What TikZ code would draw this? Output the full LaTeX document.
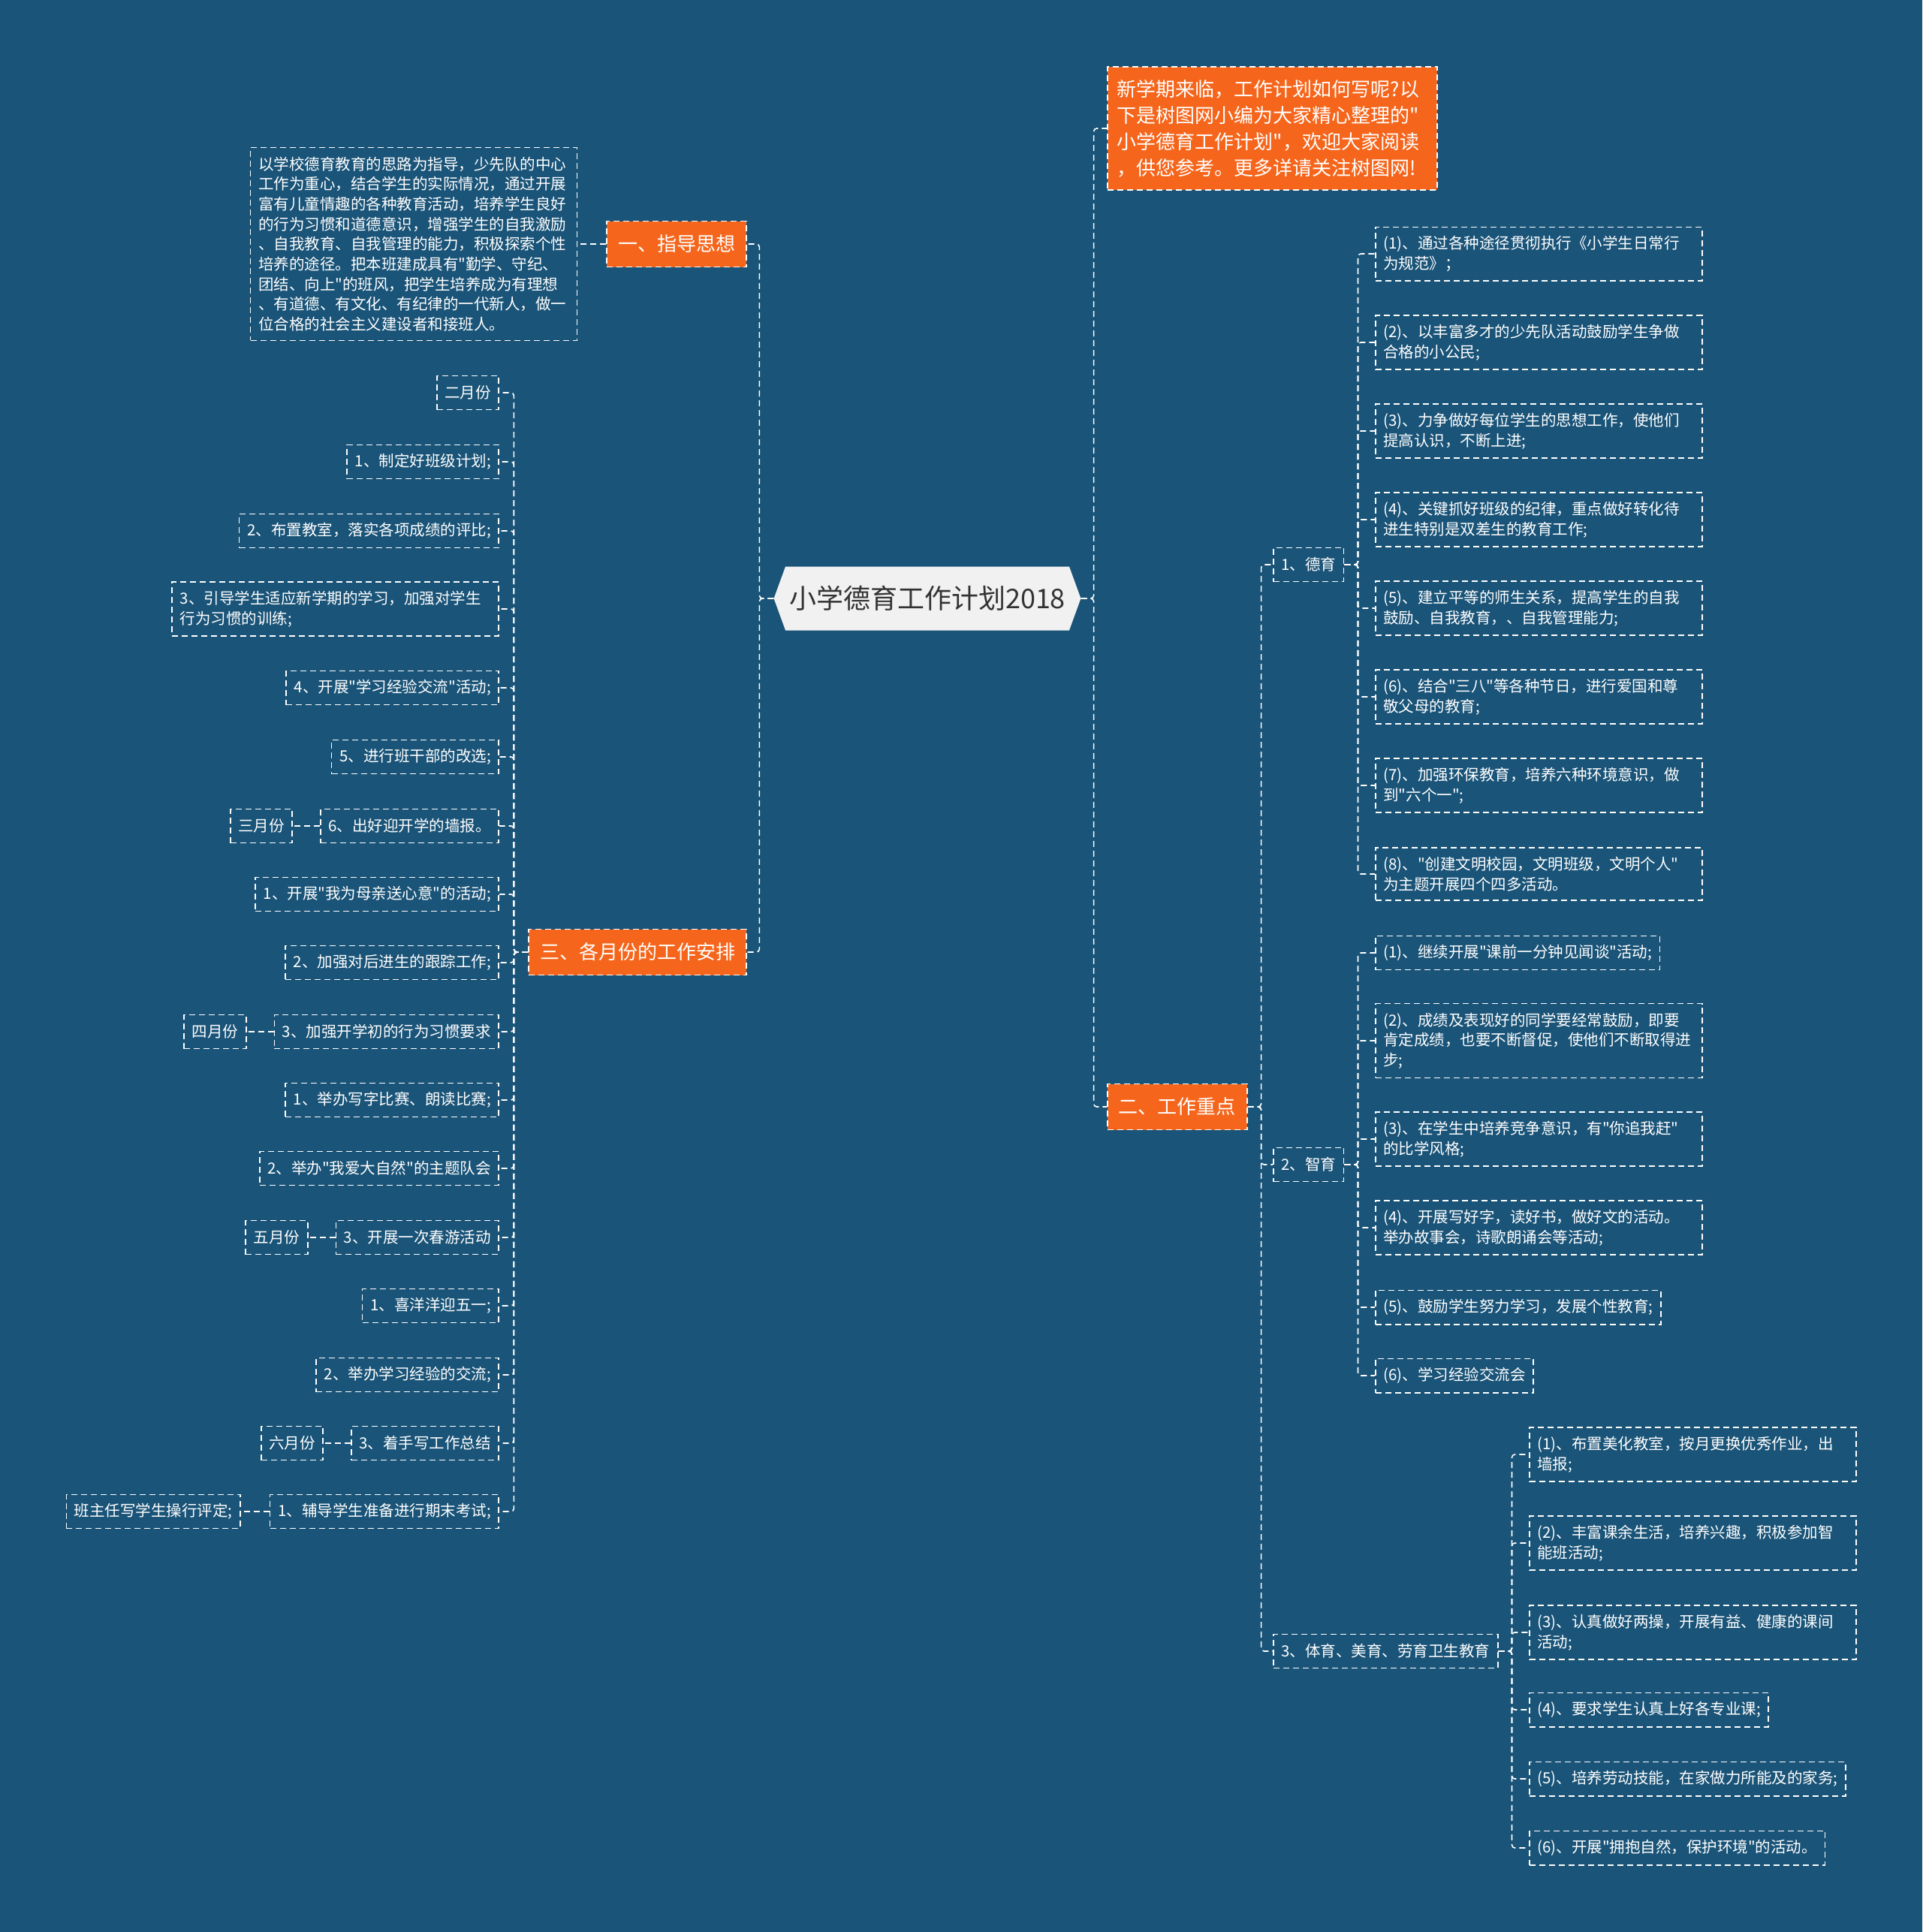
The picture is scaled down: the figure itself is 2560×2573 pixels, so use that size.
\documentclass[tikz,border=0pt]{standalone}
\usepackage{fontspec}
\setmainfont{Noto Sans CJK SC}
\newfontfamily\mapfont{Noto Sans CJK SC}
\usetikzlibrary{positioning,shapes.symbols}
\definecolor{MapBlue}{RGB}{26,84,120}
\definecolor{TopicOrange}{RGB}{245,102,28}
\definecolor{HubGray}{RGB}{241,241,241}
\definecolor{HubText}{RGB}{51,51,51}

\begin{document}
\begin{tikzpicture}[x=1pt, y=-1pt,
    dashline/.style={draw=white, line width=1.6pt, dash pattern=on 8pt off 5pt},
    leaf/.style={dashline, text=white, font=\mapfont\fontsize{20.5}{26.7}\selectfont, inner xsep=10.5pt, inner ysep=12pt, minimum height=45pt},
    wide/.style={leaf, text width=414pt, align=left},
    branch/.style={dashline, fill=TopicOrange, text=white, font=\mapfont\fontsize{26}{35}\selectfont, inner xsep=15pt, inner ysep=16pt, minimum height=61pt},
    hub/.style={shape=signal, signal to=east and west, signal pointer angle=140, fill=HubGray, text=HubText, font=\mapfont\fontsize{36}{40}\selectfont, inner xsep=5pt, minimum height=85pt},
    link/.style={dashline, rounded corners=4pt}
  ]
  \useasboundingbox (0,0) rectangle (2560,2573);
  \fill[MapBlue] (0,0) rectangle (2560,2573);

  \node[hub] (hub) at (1235,797) {小学德育工作计划2018};

  % left side
  \node[branch, anchor=east] (guide) at (995,325) {一、指导思想};
  \node[wide, left=38pt of guide] (guidetxt) {以学校德育教育的思路为指导，少先队的中心\\工作为重心，结合学生的实际情况，通过开展\\富有儿童情趣的各种教育活动，培养学生良好\\的行为习惯和道德意识，增强学生的自我激励\\、自我教育、自我管理的能力，积极探索个性\\培养的途径。把本班建成具有"勤学、守纪、\\团结、向上"的班风，把学生培养成为有理想\\、有道德、有文化、有纪律的一代新人，做一\\位合格的社会主义建设者和接班人。};
  \node[branch, anchor=east] (month) at (995,1268) {三、各月份的工作安排};

  \node[leaf, anchor=east] (m1) at (665,523) {二月份};
  \node[leaf, anchor=east] (m2) at (665,615) {1、制定好班级计划;};
  \node[leaf, anchor=east] (m3) at (665,707) {2、布置教室，落实各项成绩的评比;};
  \node[wide, anchor=east] (m4) at (665,811) {3、引导学生适应新学期的学习，加强对学生\\行为习惯的训练;};
  \node[leaf, anchor=east] (m5) at (665,916) {4、开展"学习经验交流"活动;};
  \node[leaf, anchor=east] (m6) at (665,1008) {5、进行班干部的改选;};
  \node[leaf, anchor=east] (m7) at (665,1100) {6、出好迎开学的墙报。};
  \node[leaf, left=36pt of m7] (mar) {三月份};
  \node[leaf, anchor=east] (m8) at (665,1191) {1、开展"我为母亲送心意"的活动;};
  \node[leaf, anchor=east] (m9) at (665,1282) {2、加强对后进生的跟踪工作;};
  \node[leaf, anchor=east] (m10) at (665,1374) {3、加强开学初的行为习惯要求};
  \node[leaf, left=36pt of m10] (apr) {四月份};
  \node[leaf, anchor=east] (m11) at (665,1465) {1、举办写字比赛、朗读比赛;};
  \node[leaf, anchor=east] (m12) at (665,1556) {2、举办"我爱大自然"的主题队会};
  \node[leaf, anchor=east] (m13) at (665,1648) {3、开展一次春游活动};
  \node[leaf, left=36pt of m13] (may) {五月份};
  \node[leaf, anchor=east] (m14) at (665,1739) {1、喜洋洋迎五一;};
  \node[leaf, anchor=east] (m15) at (665,1831) {2、举办学习经验的交流;};
  \node[leaf, anchor=east] (m16) at (665,1922) {3、着手写工作总结};
  \node[leaf, left=36pt of m16] (jun) {六月份};
  \node[leaf, anchor=east] (m17) at (665,2013) {1、辅导学生准备进行期末考试;};
  \node[leaf, left=38pt of m17] (eval) {班主任写学生操行评定;};

  % right side
  \node[branch, anchor=west, text width=413pt, align=left, inner xsep=13pt, inner ysep=17pt] (intro) at (1474,171) {新学期来临，工作计划如何写呢?以\\下是树图网小编为大家精心整理的"\\小学德育工作计划"，欢迎大家阅读\\，供您参考。更多详请关注树图网!};
  \node[branch, anchor=west] (focus) at (1474,1474) {二、工作重点};

  \node[leaf, anchor=west] (moral) at (1695,752) {1、德育};
  \node[leaf, anchor=west] (intel) at (1695,1551) {2、智育};
  \node[leaf, anchor=west] (phys) at (1695,2199) {3、体育、美育、劳育卫生教育};

  \node[wide, anchor=west] (d1) at (1831,338) {(1)、通过各种途径贯彻执行《小学生日常行\\为规范》；};
  \node[wide, anchor=west] (d2) at (1831,456) {(2)、以丰富多才的少先队活动鼓励学生争做\\合格的小公民;};
  \node[wide, anchor=west] (d3) at (1831,574) {(3)、力争做好每位学生的思想工作，使他们\\提高认识，不断上进;};
  \node[wide, anchor=west] (d4) at (1831,692) {(4)、关键抓好班级的纪律，重点做好转化待\\进生特别是双差生的教育工作;};
  \node[wide, anchor=west] (d5) at (1831,810) {(5)、建立平等的师生关系，提高学生的自我\\鼓励、自我教育，、自我管理能力;};
  \node[wide, anchor=west] (d6) at (1831,928) {(6)、结合"三八"等各种节日，进行爱国和尊\\敬父母的教育;};
  \node[wide, anchor=west] (d7) at (1831,1046) {(7)、加强环保教育，培养六种环境意识，做\\到"六个一";};
  \node[wide, anchor=west] (d8) at (1831,1164) {(8)、"创建文明校园，文明班级，文明个人"\\为主题开展四个四多活动。};

  \node[leaf, anchor=west] (z1) at (1831,1269) {(1)、继续开展"课前一分钟见闻谈"活动;};
  \node[wide, anchor=west] (z2) at (1831,1386) {(2)、成绩及表现好的同学要经常鼓励，即要\\肯定成绩，也要不断督促，使他们不断取得进\\步;};
  \node[wide, anchor=west] (z3) at (1831,1517) {(3)、在学生中培养竞争意识，有"你追我赶"\\的比学风格;};
  \node[wide, anchor=west] (z4) at (1831,1635) {(4)、开展写好字，读好书，做好文的活动。\\举办故事会，诗歌朗诵会等活动;};
  \node[leaf, anchor=west] (z5) at (1831,1741) {(5)、鼓励学生努力学习，发展个性教育;};
  \node[leaf, anchor=west] (z6) at (1831,1832) {(6)、学习经验交流会};

  \node[wide, anchor=west] (t1) at (2036,1937) {(1)、布置美化教室，按月更换优秀作业，出\\墙报;};
  \node[wide, anchor=west] (t2) at (2036,2055) {(2)、丰富课余生活，培养兴趣，积极参加智\\能班活动;};
  \node[wide, anchor=west] (t3) at (2036,2174) {(3)、认真做好两操，开展有益、健康的课间\\活动;};
  \node[leaf, anchor=west] (t4) at (2036,2277) {(4)、要求学生认真上好各专业课;};
  \node[leaf, anchor=west] (t5) at (2036,2369) {(5)、培养劳动技能，在家做力所能及的家务;};
  \node[leaf, anchor=west] (t6) at (2036,2461) {(6)、开展"拥抱自然，保护环境"的活动。};

  % connectors
  \draw[link] (hub.west) -- ++(-19,0) |- (guide.east);
  \draw[link] (hub.west) -- ++(-19,0) |- (month.east);
  \draw[link] (guide.west) -- (guidetxt.east);
  \draw[link] (month.west) -- ++(-19,0) |- (m1.east);
  \draw[link] (month.west) -- ++(-19,0) |- (m2.east);
  \draw[link] (month.west) -- ++(-19,0) |- (m3.east);
  \draw[link] (month.west) -- ++(-19,0) |- (m4.east);
  \draw[link] (month.west) -- ++(-19,0) |- (m5.east);
  \draw[link] (month.west) -- ++(-19,0) |- (m6.east);
  \draw[link] (month.west) -- ++(-19,0) |- (m7.east);
  \draw[link] (month.west) -- ++(-19,0) |- (m8.east);
  \draw[link] (month.west) -- ++(-19,0) |- (m9.east);
  \draw[link] (month.west) -- ++(-19,0) |- (m10.east);
  \draw[link] (month.west) -- ++(-19,0) |- (m11.east);
  \draw[link] (month.west) -- ++(-19,0) |- (m12.east);
  \draw[link] (month.west) -- ++(-19,0) |- (m13.east);
  \draw[link] (month.west) -- ++(-19,0) |- (m14.east);
  \draw[link] (month.west) -- ++(-19,0) |- (m15.east);
  \draw[link] (month.west) -- ++(-19,0) |- (m16.east);
  \draw[link] (month.west) -- ++(-19,0) |- (m17.east);
  \draw[link] (m7.west) -- (mar.east);
  \draw[link] (m10.west) -- (apr.east);
  \draw[link] (m13.west) -- (may.east);
  \draw[link] (m16.west) -- (jun.east);
  \draw[link] (m17.west) -- (eval.east);

  \draw[link] (hub.east) -- ++(17,0) |- (intro.west);
  \draw[link] (hub.east) -- ++(17,0) |- (focus.west);
  \draw[link] (focus.east) -- ++(18,0) |- (moral.west);
  \draw[link] (focus.east) -- ++(18,0) |- (intel.west);
  \draw[link] (focus.east) -- ++(18,0) |- (phys.west);
  \draw[link] (moral.east) -- ++(18,0) |- (d1.west);
  \draw[link] (moral.east) -- ++(18,0) |- (d2.west);
  \draw[link] (moral.east) -- ++(18,0) |- (d3.west);
  \draw[link] (moral.east) -- ++(18,0) |- (d4.west);
  \draw[link] (moral.east) -- ++(18,0) |- (d5.west);
  \draw[link] (moral.east) -- ++(18,0) |- (d6.west);
  \draw[link] (moral.east) -- ++(18,0) |- (d7.west);
  \draw[link] (moral.east) -- ++(18,0) |- (d8.west);
  \draw[link] (intel.east) -- ++(18,0) |- (z1.west);
  \draw[link] (intel.east) -- ++(18,0) |- (z2.west);
  \draw[link] (intel.east) -- ++(18,0) |- (z3.west);
  \draw[link] (intel.east) -- ++(18,0) |- (z4.west);
  \draw[link] (intel.east) -- ++(18,0) |- (z5.west);
  \draw[link] (intel.east) -- ++(18,0) |- (z6.west);
  \draw[link] (phys.east) -- ++(18,0) |- (t1.west);
  \draw[link] (phys.east) -- ++(18,0) |- (t2.west);
  \draw[link] (phys.east) -- ++(18,0) |- (t3.west);
  \draw[link] (phys.east) -- ++(18,0) |- (t4.west);
  \draw[link] (phys.east) -- ++(18,0) |- (t5.west);
  \draw[link] (phys.east) -- ++(18,0) |- (t6.west);
\end{tikzpicture}
\end{document}
